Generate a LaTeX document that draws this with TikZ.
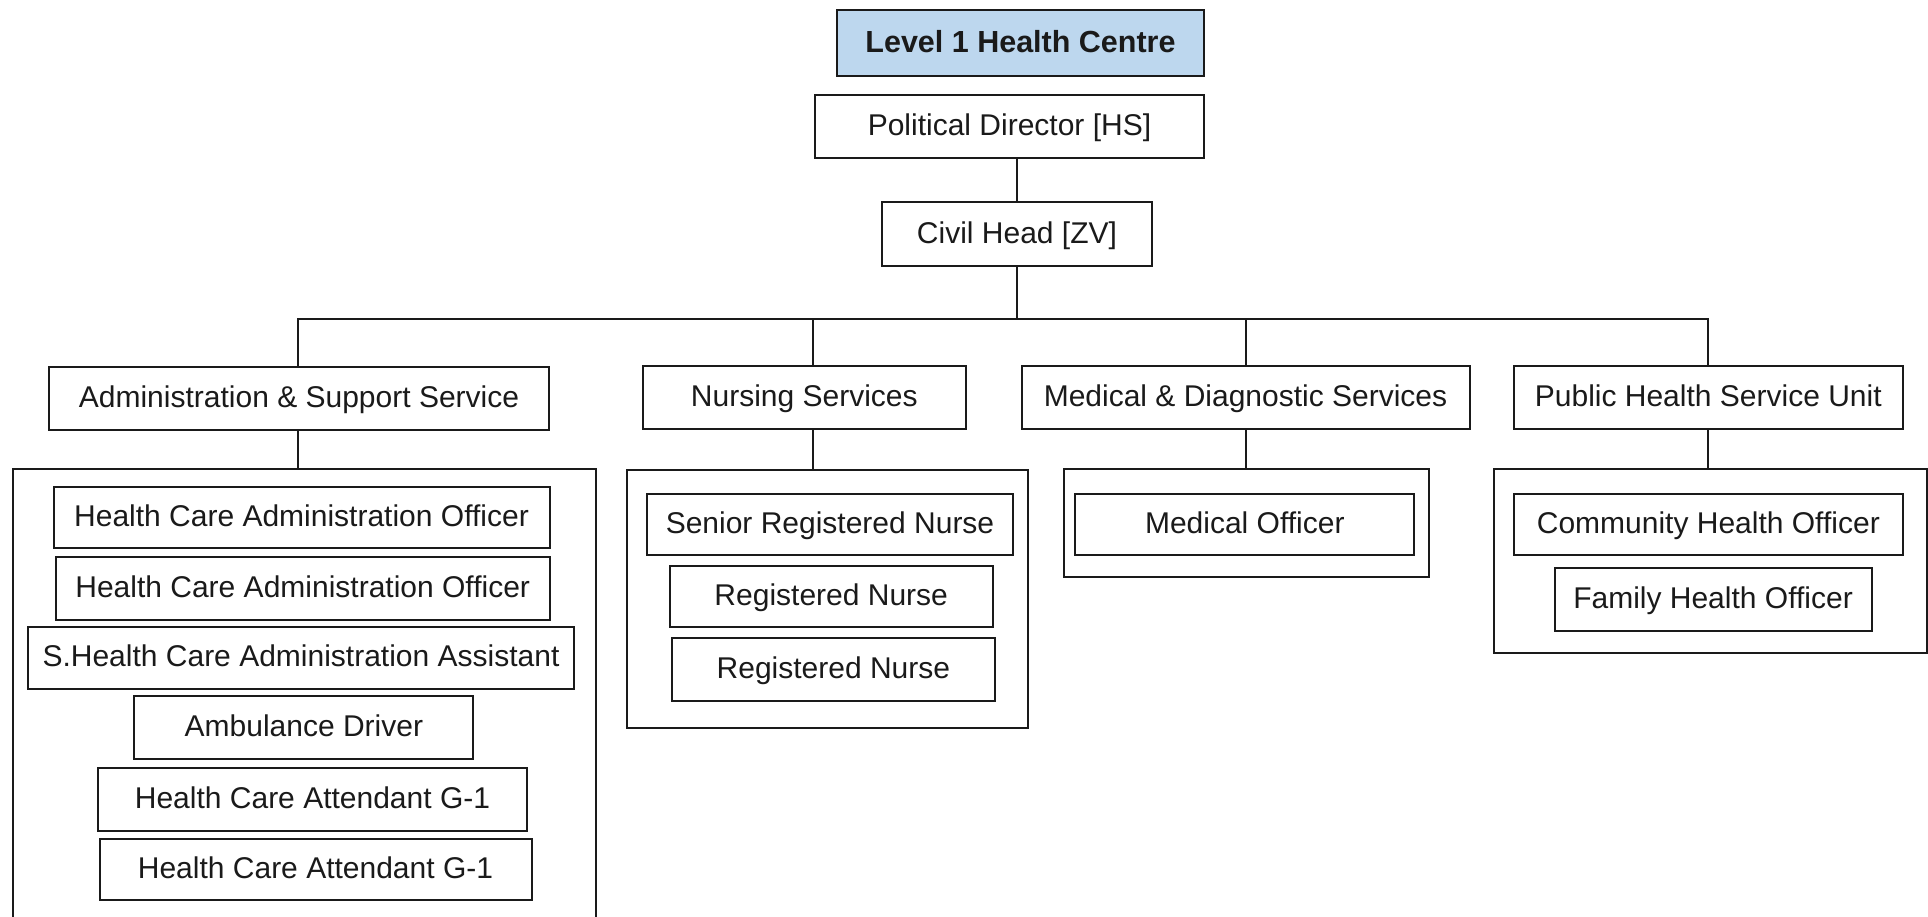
\documentclass[tikz,border=0pt]{standalone}
\usepackage{fontspec}
\setmainfont{Liberation Sans}
\definecolor{titlefill}{HTML}{BDD7EE}
\definecolor{linecol}{HTML}{1A1A1A}
\begin{document}
\begin{tikzpicture}[x=1pt,y=-1pt,
  every node/.style={font=\fontsize{30}{36}\selectfont, text=linecol},
  box/.style={draw=linecol, line width=2pt, rectangle, inner sep=0pt,
    text height=24pt, text depth=6pt, align=center},
  grp/.style={draw=linecol, line width=2pt, rectangle, inner sep=0pt},
  conn/.style={draw=linecol, line width=2pt}]
\useasboundingbox (0,0) rectangle (1928,916);
\clip (0,0) rectangle (1928,916);
% top
\node[box, fill=titlefill, minimum width=367pt, minimum height=66pt, font=\fontsize{30.5}{36}\selectfont\bfseries] (title) at (1020.5,43) {Level 1 Health Centre};
\node[box, minimum width=389pt, minimum height=63pt] (pol) at (1009.5,126.5) {Political Director [HS]};
\node[box, minimum width=270pt, minimum height=64pt] (civil) at (1017,234) {Civil Head [ZV]};
% second level
\node[box, minimum width=500pt, minimum height=63pt] (adm) at (299,398) {Administration \& Support Service};
\node[box, minimum width=323pt, minimum height=63pt] (nur) at (804.3,397.7) {Nursing Services};
\node[box, minimum width=448pt, minimum height=63pt] (med) at (1245.5,397.7) {Medical \& Diagnostic Services};
\node[box, minimum width=389pt, minimum height=63pt] (pub) at (1708.3,397.7) {Public Health Service Unit};
% groups
\node[grp, minimum width=583pt, minimum height=472pt] (admg) at (304.6,705) {};
\node[grp, minimum width=401pt, minimum height=258pt] (nurg) at (827.5,598.5) {};
\node[grp, minimum width=365pt, minimum height=108pt] (medg) at (1246.7,523.3) {};
\node[grp, minimum width=433pt, minimum height=184pt] (pubg) at (1710.2,561.3) {};
% admin items
\node[box, minimum width=496pt, minimum height=61pt] (a1) at (301.5,517.7) {Health Care Administration Officer};
\node[box, minimum width=494pt, minimum height=63pt] (a2) at (302.7,588.4) {Health Care Administration Officer};
\node[box, minimum width=546pt, minimum height=62pt] (a3) at (301,657.8) {S.Health Care Administration Assistant};
\node[box, minimum width=339pt, minimum height=63pt] (a4) at (303.9,727.2) {Ambulance Driver};
\node[box, minimum width=429pt, minimum height=63pt] (a5) at (312.5,799) {Health Care Attendant G-1};
\node[box, minimum width=432pt, minimum height=61pt] (a6) at (315.5,869.6) {Health Care Attendant G-1};
% nursing items
\node[box, minimum width=366pt, minimum height=61pt] (n1) at (830,524.5) {Senior Registered Nurse};
\node[box, minimum width=323pt, minimum height=61pt] (n2) at (831.2,596.2) {Registered Nurse};
\node[box, minimum width=323pt, minimum height=63pt] (n3) at (833.4,669) {Registered Nurse};
% medical items
\node[box, minimum width=339pt, minimum height=61pt] (m1) at (1244.8,524.5) {Medical Officer};
% public health items
\node[box, minimum width=389pt, minimum height=61pt] (p1) at (1708.3,524.5) {Community Health Officer};
\node[box, minimum width=317pt, minimum height=63pt] (p2) at (1713,599.5) {Family Health Officer};
% bus coordinates
\coordinate (bc) at (1017,319.3);
\coordinate (ba) at (298.3,319.3);
\coordinate (bn) at (813,319.3);
\coordinate (bm) at (1245.5,319.3);
\coordinate (bp) at (1707.7,319.3);
% connectors
\draw[conn] (pol.south -| bc) -- (civil.north -| bc);
\draw[conn] (civil.south -| bc) -- (bc);
\draw[conn] (ba |- adm.north) -- (ba) -- (bp) -- (bp |- pub.north);
\draw[conn] (bn) -- (bn |- nur.north);
\draw[conn] (bm) -- (bm |- med.north);
\draw[conn] (ba |- adm.south) -- (ba |- admg.north);
\draw[conn] (bn |- nur.south) -- (bn |- nurg.north);
\draw[conn] (bm |- med.south) -- (bm |- medg.north);
\draw[conn] (bp |- pub.south) -- (bp |- pubg.north);
\end{tikzpicture}
\end{document}
